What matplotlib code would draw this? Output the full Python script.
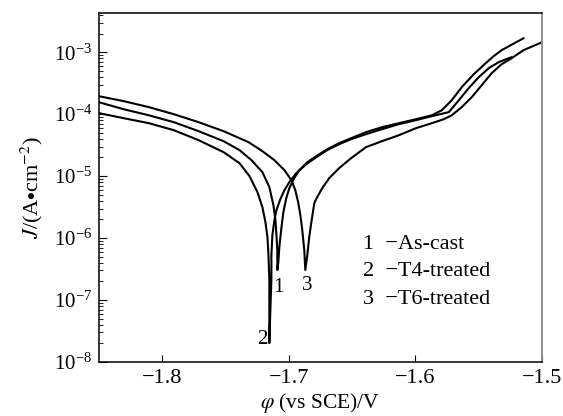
import matplotlib
matplotlib.use("Agg")
import matplotlib.pyplot as plt
from matplotlib.ticker import LogLocator, NullFormatter, LogFormatterMathtext

plt.rcParams['font.family'] = ['Liberation Serif', 'DejaVu Serif']
plt.rcParams['mathtext.fontset'] = 'stix'

# potentiodynamic polarisation curves, potential in V vs SCE, J in A/cm2
# 1 - as-cast
e_ascast = [-1.8500, -1.8303, -1.8106, -1.7909, -1.7713, -1.7516, -1.7390,
            -1.7295, -1.7209, -1.7154, -1.7122, -1.7106, -1.7098, -1.7091,
            -1.7091,
            -1.7083, -1.7075, -1.7059, -1.7043, -1.7020, -1.6996, -1.6957,
            -1.6917, -1.6854, -1.6783, -1.6697, -1.6602, -1.6508, -1.6390,
            -1.6264, -1.6130, -1.5996, -1.5870, -1.5791, -1.5713, -1.5634,
            -1.5539, -1.5445, -1.5382, -1.5319, -1.5232, -1.5146]
j_ascast = [1.56e-4, 1.20e-4, 9.6e-5, 7.43e-5, 5.32e-5, 3.67e-5, 2.63e-5,
            1.81e-5, 1.16e-5, 6.65e-6, 3.41e-6, 1.95e-6, 1.12e-6, 6.4e-7,
            3.05e-7,
            4.1e-7, 7.16e-7, 1.45e-6, 2.63e-6, 4.42e-6, 6.4e-6, 9.3e-6,
            1.25e-5, 1.68e-5, 2.10e-5, 2.72e-5, 3.41e-5, 4.1e-5, 5.13e-5,
            6.17e-5, 7.16e-5, 8.3e-5, 9.6e-5, 1.16e-4, 1.68e-4, 2.73e-4,
            4.42e-4, 6.65e-4, 8.62e-4, 1.08e-3, 1.35e-3, 1.68e-3]

# 2 - T4
e_t4 = [-1.8500, -1.8303, -1.8106, -1.7909, -1.7713, -1.7516, -1.7390,
        -1.7311, -1.7248, -1.7209, -1.7185, -1.7169, -1.7161, -1.7154,
        -1.7154,
        -1.7146, -1.7138, -1.7138, -1.7130, -1.7114, -1.7098, -1.7067,
        -1.7035, -1.6996, -1.6941, -1.6862, -1.6783, -1.6697, -1.6602,
        -1.6508, -1.6390, -1.6264, -1.6130, -1.5996, -1.5870, -1.5736,
        -1.5657, -1.5579, -1.5500, -1.5421, -1.5343, -1.5264, -1.5240]
j_t4 = [1.04e-4, 8.6e-5, 7.16e-5, 5.52e-5, 3.81e-5, 2.44e-5, 1.62e-5,
        1.0e-5, 5.52e-6, 3.16e-6, 1.81e-6, 1.04e-6, 5.32e-7, 2.1e-7,
        2.02e-8,
        6.9e-8, 2.1e-7, 5.32e-7, 1.12e-6, 1.95e-6, 2.83e-6, 4.26e-6,
        5.94e-6, 8.0e-6, 1.12e-5, 1.56e-5, 2.02e-5, 2.63e-5, 3.28e-5,
        3.95e-5, 4.76e-5, 5.73e-5, 6.9e-5, 8.0e-5, 9.3e-5, 1.08e-4,
        1.68e-4, 2.63e-4, 3.95e-4, 5.52e-4, 6.9e-4, 8.0e-4, 8.31e-4]

# 3 - T6
e_t6 = [-1.8500, -1.8303, -1.8106, -1.7909, -1.7713, -1.7516, -1.7319,
        -1.7209, -1.7114, -1.7035, -1.6980, -1.6949, -1.6925, -1.6909,
        -1.6894, -1.6878, -1.6870,
        -1.6854, -1.6839, -1.6823, -1.6799, -1.6776, -1.6736, -1.6681,
        -1.6602, -1.6508, -1.6390, -1.6264, -1.6130, -1.5996, -1.5870,
        -1.5776, -1.5713, -1.5634, -1.5555, -1.5476, -1.5398, -1.5319,
        -1.5240, -1.5146, -1.5000]
j_t6 = [1.95e-4, 1.62e-4, 1.30e-4, 1.0e-4, 7.43e-5, 5.32e-5, 3.54e-5,
        2.53e-5, 1.81e-5, 1.25e-5, 8.6e-6, 5.94e-6, 3.67e-6, 2.35e-6,
        1.35e-6, 6.4e-7, 3.05e-7,
        5.32e-7, 1.04e-6, 1.75e-6, 3.67e-6, 4.58e-6, 6.4e-6, 9.3e-6,
        1.35e-5, 1.95e-5, 2.94e-5, 3.67e-5, 4.58e-5, 5.94e-5, 7.16e-5,
        8.3e-5, 9.6e-5, 1.30e-4, 1.88e-4, 2.94e-4, 4.58e-4, 6.4e-4,
        8.0e-4, 1.08e-3, 1.45e-3]

curve_tags = ['1', '2', '3']
tag_e = [-1.7083, -1.7209, -1.6854]
tag_j = [1.6e-7, 2.3e-8, 1.7e-7]
legend_lines = ['1  \u2212As-cast', '2  \u2212T4-treated', '3  \u2212T6-treated']

fig = plt.figure(figsize=(5.63, 4.16), dpi=100)
ax = fig.add_axes([0.1758, 0.1298, 0.7869, 0.839])

for e, j in [(e_ascast, j_ascast), (e_t4, j_t4), (e_t6, j_t6)]:
    ax.plot(e, j, color='black', lw=1.5, solid_joinstyle='round')

ax.set_yscale('log')
ax.set_xlim(-1.85, -1.5)
ax.set_ylim(1e-8, 4.3e-3)
ax.set_xticks([-1.8, -1.7, -1.6, -1.5])
ax.xaxis.set_major_formatter(plt.FuncFormatter(lambda v, p: '\u2212%.1f' % abs(v) if v < 0 else '%.1f' % v))
ax.yaxis.set_major_locator(LogLocator(base=10, numticks=20))
ax.yaxis.set_minor_locator(LogLocator(base=10, subs=range(2, 10), numticks=20))
ax.yaxis.set_major_formatter(LogFormatterMathtext())
ax.yaxis.set_minor_formatter(NullFormatter())

ax.tick_params(which='both', direction='in', top=False, right=False, labelsize=15)
ax.tick_params(axis='x', which='major', length=5, pad=5, labelsize=16)
ax.tick_params(axis='y', which='major', length=6, pad=5)
ax.tick_params(axis='y', which='minor', length=3)

for s in ['left', 'bottom', 'top']:
    ax.spines[s].set_linewidth(1.1)
ax.spines['right'].set_color('#888888')
ax.spines['right'].set_linewidth(1.3)

ax.set_xlabel(r'$\varphi$ (vs SCE)/V', fontsize=15.5, labelpad=2)
ax.set_ylabel(r'$J$/(A$\bullet$cm$^{-2}$)', fontsize=16, labelpad=6)

for t, e, j in zip(curve_tags, tag_e, tag_j):
    ax.text(e, j, t, fontsize=15, ha='center', va='center')

for i, t in enumerate(legend_lines):
    ax.text(0.596, 0.338 - i * 0.079, t, transform=ax.transAxes,
            fontsize=16, ha='left', va='center')

fig.savefig('out.png', dpi=100)
